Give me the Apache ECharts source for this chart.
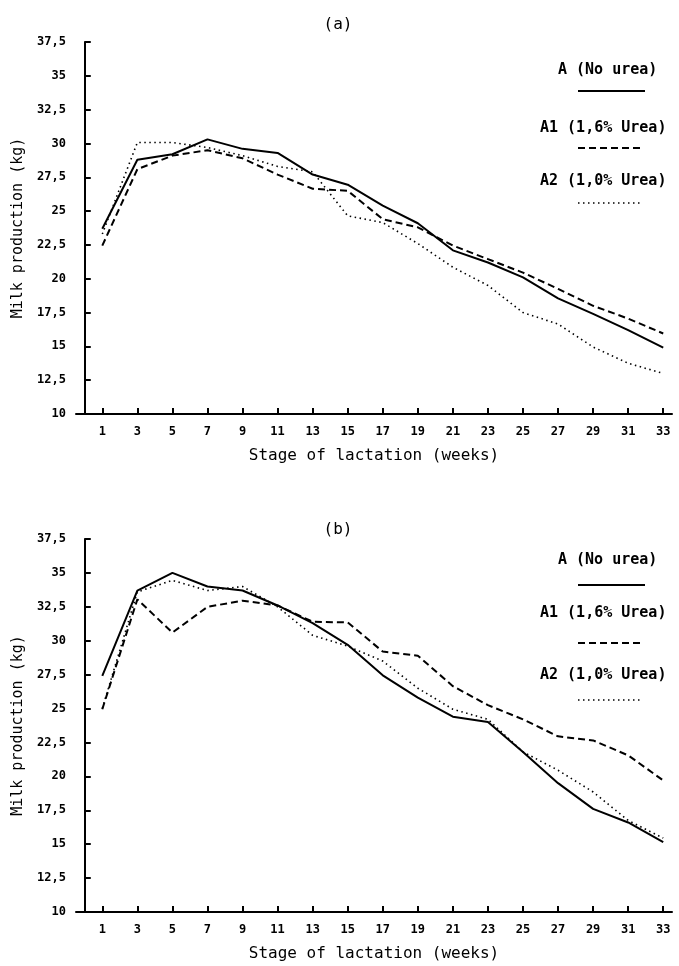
<!DOCTYPE html>
<html><head><meta charset="utf-8">
<script src="https://cdn.jsdelivr.net/npm/echarts@6/dist/echarts.min.js"></script>
<style>html,body{margin:0;padding:0;background:#fff}#c{width:679px;height:966px}</style>
</head><body><div id="c"></div>
<script>
// ---- data ----
const weeks = [1,3,5,7,9,11,13,15,17,19,21,23,25,27,29,31,33];
const yTickValues = [10,12.5,15,17.5,20,22.5,25,27.5,30,32.5,35,37.5];
const seriesNames = ['A (No urea)', 'A1 (1,6% Urea)', 'A2 (1,0% Urea)'];

// panel (a)
const a_A  = [23.7, 28.8, 29.2, 30.3, 29.6, 29.3, 27.7, 26.95, 25.4, 24.1, 22.1, 21.2, 20.1, 18.55, 17.4, 16.2, 14.9];
const a_A1 = [22.45, 28.1, 29.1, 29.5, 28.9, 27.7, 26.65, 26.5, 24.4, 23.8, 22.45, 21.45, 20.45, 19.25, 18.0, 17.05, 15.95];
const a_A2 = [23.3, 30.07, 30.07, 29.7, 29.1, 28.3, 27.9, 24.65, 24.15, 22.6, 20.85, 19.5, 17.5, 16.65, 14.95, 13.75, 13.0];

// panel (b)
const b_A  = [27.4, 33.7, 35.0, 34.0, 33.7, 32.6, 31.3, 29.7, 27.45, 25.8, 24.4, 24.0, 21.8, 19.5, 17.6, 16.6, 15.15];
const b_A1 = [24.95, 33.05, 30.6, 32.5, 32.95, 32.6, 31.4, 31.35, 29.2, 28.9, 26.65, 25.25, 24.2, 22.95, 22.65, 21.55, 19.7];
const b_A2 = [25.0, 33.6, 34.45, 33.7, 34.0, 32.5, 30.4, 29.6, 28.5, 26.5, 24.95, 24.2, 21.8, 20.45, 18.85, 16.75, 15.45];

// ---- chart ----
const pairs = arr => arr.map((v, i) => [weeks[i], v]);
const MONO = '"DejaVu Sans Mono", monospace';
const lineStyles = [
  { type: 'solid', width: 2 },
  { type: [7, 4], width: 2 },
  { type: [1.5, 3.5], width: 1.6 }
];

function xAxis(gi) {
  return {
    type: 'value', gridIndex: gi, min: -0.5, max: 33.5,
    name: 'Stage of lactation (weeks)', nameLocation: 'middle', nameGap: 34,
    nameTextStyle: { fontFamily: MONO, fontSize: 16, color: '#000' },
    axisLine: { lineStyle: { color: '#000', width: 2 } },
    axisTick: { inside: true, length: 6, customValues: weeks, lineStyle: { color: '#000', width: 2 } },
    axisLabel: { customValues: weeks, margin: 12, fontFamily: MONO, fontWeight: 'bold', fontSize: 12, color: '#000' },
    splitLine: { show: false }
  };
}
function yAxis(gi) {
  return {
    type: 'value', gridIndex: gi, min: 10, max: 37.5, interval: 2.5,
    name: 'Milk production (kg)', nameLocation: 'middle', nameGap: 50,
    nameTextStyle: { fontFamily: MONO, fontSize: 15, color: '#000' },
    axisLine: { show: true, lineStyle: { color: '#000', width: 2 } },
    axisTick: { show: true, inside: true, length: 6, lineStyle: { color: '#000', width: 2 } },
    axisLabel: { margin: 10, fontFamily: MONO, fontWeight: 'bold', fontSize: 12, color: '#000',
      formatter: v => String(v).replace('.', ',') },
    splitLine: { show: false }
  };
}
function mkSeries(gi, arrs) {
  return arrs.map((arr, k) => ({
    type: 'line', name: seriesNames[k], xAxisIndex: gi, yAxisIndex: gi,
    data: pairs(arr), showSymbol: false, symbol: 'none', smooth: false,
    lineStyle: Object.assign({ color: '#000' }, lineStyles[k]),
    z: 3 - k, animation: false
  }));
}
function legendGraphics(yA, yLA, yA1, yLA1, yA2, yLA2) {
  const ts = { fontFamily: MONO, fontWeight: 'bold', fontSize: 15, fill: '#000' };
  return [
    { type: 'text', left: 558, top: yA - 9, style: Object.assign({ text: seriesNames[0] }, ts) },
    { type: 'line', shape: { x1: 578, y1: yLA, x2: 645, y2: yLA }, style: { stroke: '#000', lineWidth: 2 } },
    { type: 'text', left: 540, top: yA1 - 9, style: Object.assign({ text: seriesNames[1] }, ts) },
    { type: 'line', shape: { x1: 578, y1: yLA1, x2: 640, y2: yLA1 }, style: { stroke: '#000', lineWidth: 2, lineDash: [7, 4] } },
    { type: 'text', left: 540, top: yA2 - 9, style: Object.assign({ text: seriesNames[2] }, ts) },
    { type: 'line', shape: { x1: 578, y1: yLA2, x2: 640, y2: yLA2 }, style: { stroke: '#000', lineWidth: 1.6, lineDash: [1.5, 3.5] } }
  ];
}

const chart = echarts.init(document.getElementById('c'), null, { renderer: 'canvas' });
chart.setOption({
  backgroundColor: '#fff',
  animation: false,
  title: [
    { text: '(a)', left: 333, top: 12, textAlign: 'center', textStyle: { fontFamily: MONO, fontSize: 16, fontWeight: 'normal', color: '#000' } },
    { text: '(b)', left: 333, top: 517, textAlign: 'center', textStyle: { fontFamily: MONO, fontSize: 16, fontWeight: 'normal', color: '#000' } }
  ],
  grid: [
    { left: 76, right: 7, top: 42, height: 372 },
    { left: 76, right: 7, top: 539, height: 373 }
  ],
  xAxis: [xAxis(0), xAxis(1)],
  yAxis: [yAxis(0), yAxis(1)],
  series: mkSeries(0, [a_A, a_A1, a_A2]).concat(mkSeries(1, [b_A, b_A1, b_A2])),
  graphic: legendGraphics(72, 91, 130, 148, 183, 203).concat(legendGraphics(562, 585, 615, 643, 677, 700))
});
</script>
</body></html>
